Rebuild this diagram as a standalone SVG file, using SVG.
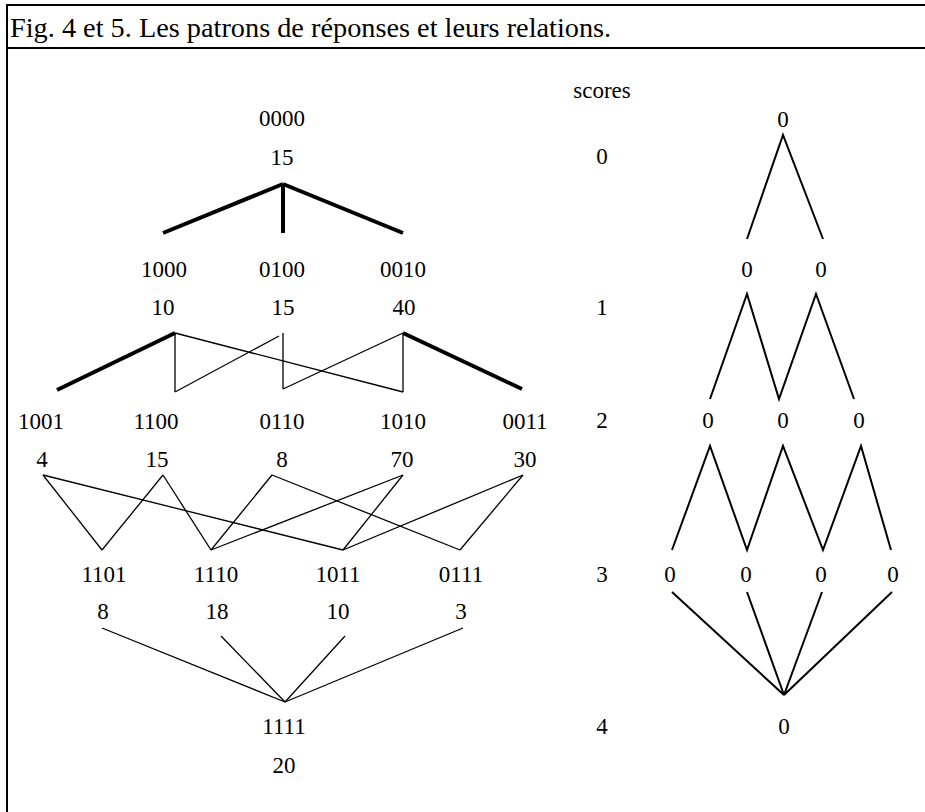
<svg xmlns="http://www.w3.org/2000/svg" width="925" height="812" viewBox="0 0 925 812">
<style>
text{font-family:"Liberation Serif","Times New Roman",serif;fill:#000;text-anchor:middle;font-size:23px}
.title{font-size:28.3px;text-anchor:start}
.frame{stroke:#000;stroke-width:2;fill:none}
.thick{stroke:#000;stroke-width:4;fill:none}
.thin{stroke:#000;stroke-width:1.3;fill:none}
.med{stroke:#000;stroke-width:2;fill:none}
</style>
<rect width="925" height="812" fill="#fff"/>
<g id="frame">
<line class="frame" x1="7" y1="5" x2="925" y2="5"/>
<line class="frame" x1="7" y1="48" x2="925" y2="48"/>
<line class="frame" x1="7" y1="4" x2="7" y2="812"/>
<text class="title" x="10" y="37">Fig. 4 et 5. Les patrons de réponses et leurs relations.</text>
</g>
<g id="connectors">
<line class="thick" x1="283" y1="184" x2="163" y2="233"/>
<line class="thick" x1="283" y1="184" x2="283" y2="233"/>
<line class="thick" x1="283" y1="184" x2="403" y2="233"/>
<line class="thick" x1="175" y1="333" x2="57" y2="390"/>
<line class="thin" x1="175" y1="333" x2="175" y2="392"/>
<line class="thin" x1="175" y1="333" x2="403" y2="392"/>
<line class="thin" x1="279" y1="336" x2="175" y2="392"/>
<line class="thin" x1="283" y1="333" x2="283" y2="389"/>
<line class="thin" x1="403" y1="333" x2="283" y2="389"/>
<line class="thin" x1="403" y1="333" x2="403" y2="392"/>
<line class="thick" x1="403" y1="333" x2="522" y2="389"/>
<line class="thin" x1="43" y1="475" x2="102" y2="550"/>
<line class="thin" x1="43" y1="475" x2="343" y2="550"/>
<line class="thin" x1="163" y1="475" x2="102" y2="550"/>
<line class="thin" x1="163" y1="475" x2="211" y2="550"/>
<line class="thin" x1="272" y1="475" x2="211" y2="550"/>
<line class="thin" x1="272" y1="475" x2="460" y2="550"/>
<line class="thin" x1="403" y1="475" x2="211" y2="550"/>
<line class="thin" x1="403" y1="475" x2="343" y2="550"/>
<line class="thin" x1="523" y1="475" x2="343" y2="550"/>
<line class="thin" x1="523" y1="475" x2="460" y2="550"/>
<line class="thin" x1="102" y1="628" x2="285" y2="702"/>
<line class="thin" x1="221" y1="636" x2="285" y2="702"/>
<line class="thin" x1="345" y1="636" x2="285" y2="702"/>
<line class="thin" x1="463" y1="628" x2="285" y2="702"/>
<polyline class="med" points="747,239 783,135 823,239"/>
<polyline class="med" points="710,399 747,294 779,399 816,294 854,399"/>
<polyline class="med" points="672,550 710,446 747,550 783,446 823,550 861,446 891,550"/>
<line class="med" x1="672" y1="592" x2="784" y2="695"/>
<line class="med" x1="747" y1="592" x2="784" y2="695"/>
<line class="med" x1="822" y1="592" x2="784" y2="695"/>
<line class="med" x1="892" y1="592" x2="784" y2="695"/>
</g>
<g id="scores">
<text x="602" y="98">scores</text>
<text x="602" y="164">0</text>
<text x="602" y="315">1</text>
<text x="602" y="428">2</text>
<text x="602" y="582">3</text>
<text x="602" y="734">4</text>
</g>
<g id="n0000"><text x="282" y="126">0000</text><text x="282" y="165">15</text></g>
<g id="n1000"><text x="164" y="277">1000</text><text x="163" y="315">10</text></g>
<g id="n0100"><text x="282" y="277">0100</text><text x="283" y="315">15</text></g>
<g id="n0010"><text x="403" y="277">0010</text><text x="404" y="315">40</text></g>
<g id="n1001"><text x="41" y="429">1001</text><text x="42" y="467">4</text></g>
<g id="n1100"><text x="156" y="429">1100</text><text x="157" y="467">15</text></g>
<g id="n0110"><text x="282" y="429">0110</text><text x="282" y="467">8</text></g>
<g id="n1010"><text x="403" y="429">1010</text><text x="402" y="467">70</text></g>
<g id="n0011"><text x="525" y="429">0011</text><text x="525" y="467">30</text></g>
<g id="n1101"><text x="104" y="582">1101</text><text x="103" y="619">8</text></g>
<g id="n1110"><text x="216" y="582">1110</text><text x="217" y="619">18</text></g>
<g id="n1011"><text x="338" y="582">1011</text><text x="338" y="619">10</text></g>
<g id="n0111"><text x="461" y="582">0111</text><text x="461" y="619">3</text></g>
<g id="n1111"><text x="284" y="734">1111</text><text x="284" y="773">20</text></g>
<g id="r0"><text x="783" y="127">0</text></g>
<g id="r1a"><text x="747" y="277">0</text></g>
<g id="r1b"><text x="821" y="277">0</text></g>
<g id="r2a"><text x="708" y="428">0</text></g>
<g id="r2b"><text x="783" y="428">0</text></g>
<g id="r2c"><text x="859" y="428">0</text></g>
<g id="r3a"><text x="670" y="582">0</text></g>
<g id="r3b"><text x="746" y="582">0</text></g>
<g id="r3c"><text x="821" y="582">0</text></g>
<g id="r3d"><text x="893" y="582">0</text></g>
<g id="r4"><text x="784" y="734">0</text></g>
</svg>
